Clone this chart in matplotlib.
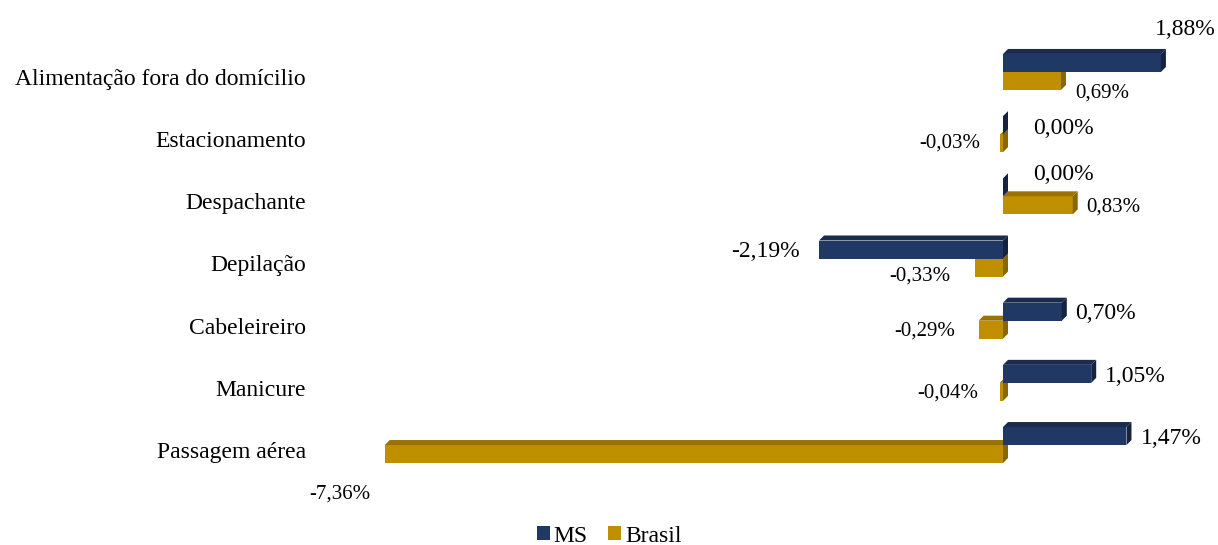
import numpy as np
import matplotlib.pyplot as plt
from matplotlib.patches import Polygon, Patch

plt.rcParams['font.family'] = ['Liberation Serif', 'DejaVu Serif']

categorias = ['Alimentação fora do domícilio', 'Estacionamento', 'Despachante',
              'Depilação', 'Cabeleireiro', 'Manicure', 'Passagem aérea']
ms = [1.88, 0.00, 0.00, -2.19, 0.70, 1.05, 1.47]
brasil = [0.69, -0.03, 0.83, -0.33, -0.29, -0.04, -7.36]

# offsets of the data labels from the bar end (pixels)
ms_off = [(24, 33), (30, -3), (30, 13), (-19, -2), (13, -2), (14, -3), (14, -2)]
brasil_off = [(14, -12), (-20, 0), (14, -2), (-25, -9), (-24, -1), (-21, -1), (-45, -40)]

cores = {'MS': ('#203864', '#1a2b4e', '#15233f'),
         'Brasil': ('#bf8f00', '#9a7200', '#8a6600')}

W, H = 1218, 545
fig = plt.figure(figsize=(W / 100, H / 100), dpi=100)
xlim = (-7.9, 2.5)
ylim = (-0.9, 6.9)
ax = fig.add_axes([339.4 / W, 39 / H, 873.6 / W, 485 / H])
ax.set_xlim(xlim)
ax.set_ylim(ylim)

px_x = 873.6 / (xlim[1] - xlim[0])
px_y = 485 / (ylim[1] - ylim[0])
dx, dy = 5 / px_x, 5 / px_y
h = 18 / px_y

pos = np.arange(len(categorias))[::-1]


def barra3d(y, v, cor):
    frente, topo, lado = cor
    x0, x1 = min(0, v), max(0, v)
    y0, y1 = y - h / 2, y + h / 2
    if x1 > x0:
        ax.add_patch(Polygon([(x0, y0), (x1, y0), (x1, y1), (x0, y1)], closed=True,
                             facecolor=frente, edgecolor='none'))
    ax.add_patch(Polygon([(x0, y1), (x1, y1), (x1 + dx, y1 + dy), (x0 + dx, y1 + dy)],
                         closed=True, facecolor=topo, edgecolor='none'))
    ax.add_patch(Polygon([(x1, y0), (x1 + dx, y0 + dy), (x1 + dx, y1 + dy), (x1, y1)],
                         closed=True, facecolor=lado, edgecolor='none'))


def fmt(v):
    return f'{v:.2f}%'.replace('.', ',')


c_ms = 14 / px_y
c_br = -4 / px_y
for p, vm, vb in zip(pos, ms, brasil):
    barra3d(p + c_br, vb, cores['Brasil'])
    barra3d(p + c_ms, vm, cores['MS'])

for i, p in enumerate(pos):
    for v, yc, off, fs in [(brasil[i], p + c_br, brasil_off[i], 15),
                           (ms[i], p + c_ms, ms_off[i], 17)]:
        ha = 'left' if off[0] > 0 else 'right'
        if abs(off[1]) > 20:
            ha = 'center'
        ax.annotate(fmt(v), (v, yc), xytext=off, textcoords='offset pixels',
                    ha=ha, va='center', fontsize=fs, color='black')

ax.set_yticks(pos)
ax.set_yticklabels(categorias, fontsize=17)
ax.tick_params(axis='y', length=0, pad=24)
ax.set_xticks([])
for s in ax.spines.values():
    s.set_visible(False)

handles = [Patch(facecolor=cores['MS'][0], label='MS'),
           Patch(facecolor=cores['Brasil'][0], label='Brasil')]
fig.legend(handles=handles, loc='center', bbox_to_anchor=(0.5, 1 - 536 / H), ncol=2,
           frameon=False, fontsize=17, handlelength=0.55, handleheight=0.55,
           handletextpad=0.15, columnspacing=0.9, borderpad=0)

fig.savefig('out.png', dpi=100)
